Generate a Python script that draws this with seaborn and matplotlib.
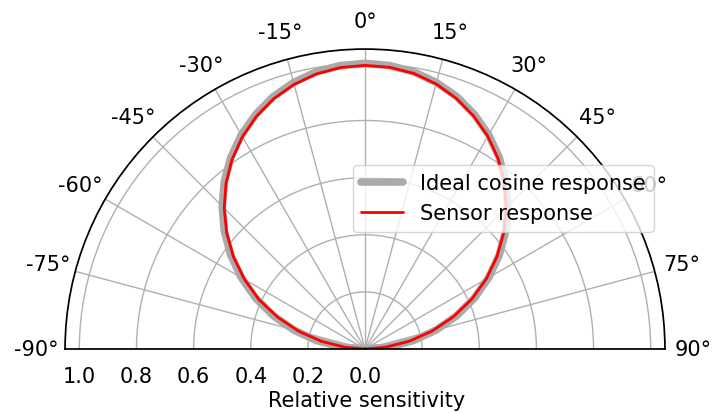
import numpy as np
import pandas as pd
import matplotlib
matplotlib.use("Agg")
import matplotlib.pyplot as plt
import seaborn as sns

# Angles of incidence (degrees)
angles_deg = [-90, -85, -80, -75, -70, -65, -60, -55, -50, -45, -40, -35, -30, -25, -20, -15, -10, -5,
              0, 5, 10, 15, 20, 25, 30, 35, 40, 45, 50, 55, 60, 65, 70, 75, 80, 85, 90]

# Ideal cosine response
ideal = [0.000, 0.087, 0.174, 0.259, 0.342, 0.423, 0.500, 0.574, 0.643, 0.707, 0.766, 0.819, 0.866,
         0.906, 0.940, 0.966, 0.985, 0.996, 1.000, 0.996, 0.985, 0.966, 0.940, 0.906, 0.866, 0.819,
         0.766, 0.707, 0.643, 0.574, 0.500, 0.423, 0.342, 0.259, 0.174, 0.087, 0.000]

sensor = [0.000, 0.070, 0.155, 0.240, 0.325, 0.410, 0.487, 0.562, 0.632, 0.697, 0.757, 0.811, 0.858,
          0.899, 0.933, 0.959, 0.978, 0.989, 0.993, 0.990, 0.980, 0.961, 0.934, 0.900, 0.860, 0.813,
          0.759, 0.699, 0.634, 0.564, 0.490, 0.412, 0.328, 0.243, 0.158, 0.072, 0.000]

theta_ticks = [-90, -75, -60, -45, -30, -15, 0, 15, 30, 45, 60, 75, 90]
r_ticks = [0.0, 0.2, 0.4, 0.6, 0.8, 1.0]

df = pd.DataFrame({
    "theta": np.deg2rad(angles_deg),
    "ideal": ideal,
    "sensor": sensor,
})

sns.set_style("white")
plt.rcParams["font.family"] = ["DejaVu Sans"]
plt.rcParams["font.size"] = 15
plt.rcParams["text.color"] = "black"
plt.rcParams["xtick.color"] = "black"
plt.rcParams["ytick.color"] = "black"

fig = plt.figure(figsize=(7.15, 4.14), dpi=100)
# polar wedge is fit inside a square box -> make the box square, wedge sits in its middle
ax = fig.add_axes([0.091, -0.2077, 0.839, 1.449], projection="polar")
ax.set_theta_zero_location("N")
ax.set_theta_direction(-1)
ax.set_thetamin(-90)
ax.set_thetamax(90)

sns.lineplot(data=df, x="theta", y="ideal", ax=ax, color="#aaaaaa", linewidth=5.5,
             label="Ideal cosine response", sort=False, solid_joinstyle="round")
sns.lineplot(data=df, x="theta", y="sensor", ax=ax, color="red", linewidth=2,
             label="Sensor response", sort=False, solid_joinstyle="round")

ax.set_rlim(0, 1.05)
ax.set_rticks(r_ticks)
ax.set_yticklabels([f"{t:.1f}" for t in r_ticks])
ax.set_thetagrids(theta_ticks, labels=[f"{t}°" for t in theta_ticks])
ax.grid(True, color="#b0b0b0", linewidth=1)
ax.tick_params(axis="x", labelsize=15, colors="black", pad=10)
ax.tick_params(axis="y", labelsize=15, colors="black", pad=9)
for sp in ax.spines.values():
    sp.set_color("black")
    sp.set_linewidth(1.25)
ax.set_xlabel("")
ax.set_ylabel("")
fig.text(0.5126, 0.031, "Relative sensitivity", ha="center", va="center",
         fontsize=15, color="black")

ax.legend(loc="center left", bbox_to_anchor=(0.479, 0.519), bbox_transform=fig.transFigure,
          fontsize=15, frameon=True)

fig.savefig("out.png", dpi=100)
